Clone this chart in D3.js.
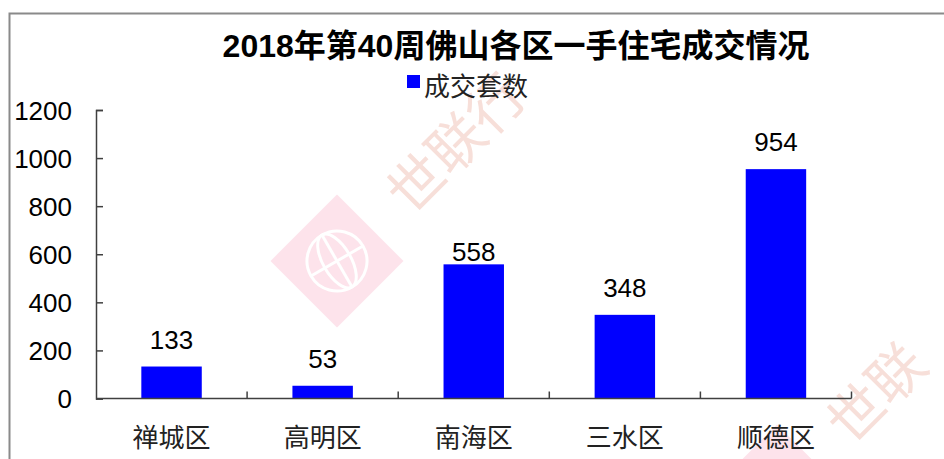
<html>
<head>
  <style>
    body{margin:0;background:#fff}
    .chart text{font-family:"Liberation Sans","Noto Sans CJK SC",sans-serif;fill:#000}
    .chart .axis line,
    .chart .axis path{stroke:#404040;stroke-width:1.5px;fill:none}
</style>
</head>

<body>
<div id="deals"></div>
<script src="https://d3js.org/d3.v7.min.js"></script>

<script>
// chart values
var categories = ['禅城区', '高明区', '南海区', '三水区', '顺德区'];
var units      = [133, 53, 558, 348, 954];
var yTicks     = [0, 200, 400, 600, 800, 1000, 1200];
var seriesName = '成交套数';
var titleText  = '2018年第40周佛山各区一手住宅成交情况';

(function () {

  var
    width   = 944,
    height  = 459,
    left    = 96,
    right   = 851.5,
    top     = 110,
    bottom  = 398.5,
    blue    = '#0000ff',
    tickLen = 7,
    vis     = d3.select('#deals').append('svg')
                .attr('class', 'chart')
                .attr('width', width)
                .attr('height', height),
    xScale  = d3.scaleBand().domain(categories).range([left, right]),
    yScale  = d3.scaleLinear().domain([0, 1200]).range([bottom, top]),
    barW    = xScale.bandwidth() * 0.4;

  // outer frame (runs off the page at right and bottom)
  vis.append('rect')
    .attr('x', 9.5)
    .attr('y', 13.5)
    .attr('width', width + 20)
    .attr('height', height + 20)
    .attr('fill', '#fff')
    .attr('stroke', '#8a8a8a')
    .attr('stroke-width', 2);

  // watermark logos
  function watermark(cx, cy, word) {
    var g = vis.append('g').attr('transform', 'translate(' + cx + ',' + cy + ')');
    g.append('rect')
      .attr('x', -47).attr('y', -47)
      .attr('width', 94).attr('height', 94)
      .attr('transform', 'rotate(45)')
      .attr('fill', '#fde3eb');
    var globe = g.append('g').attr('transform', 'rotate(-30)')
      .attr('fill', 'none').attr('stroke', '#fff').attr('stroke-width', 3);
    globe.append('ellipse').attr('rx', 30).attr('ry', 30);
    globe.append('ellipse').attr('rx', 14).attr('ry', 30);
    globe.append('line').attr('x1', -30).attr('x2', 30);
    globe.append('line').attr('y1', -30).attr('y2', 30);
    g.append('text')
      .attr('transform', 'translate(60,-58) rotate(-45)')
      .attr('x', 0)
      .attr('y', 20)
      .style('font-size', '56px')
      .style('fill', '#f7dfd9')
      .style('font-family', '"Noto Sans CJK SC"')
      .text(word);
  }
  watermark(337, 261, '世联行');
  watermark(777, 491, '世联');

  // title
  vis.append('text')
    .attr('x', 516)
    .attr('y', 57)
    .attr('text-anchor', 'middle')
    .style('font-size', '32px')
    .style('font-weight', 'bold')
    .text(titleText);

  // legend
  vis.append('rect')
    .attr('x', 407)
    .attr('y', 75)
    .attr('width', 13)
    .attr('height', 13)
    .attr('fill', blue);

  vis.append('text')
    .attr('x', 424)
    .attr('y', 96)
    .style('font-size', '26px')
    .style('fill', '#222')
    .text(seriesName);

  // bars
  vis.append('g').selectAll('rect')
    .data(units)
    .enter().append('rect')
    .attr('x', function (d, i) { return xScale(categories[i]) + (xScale.bandwidth() - barW) / 2; })
    .attr('y', function (d) { return yScale(d); })
    .attr('width', barW)
    .attr('height', function (d) { return yScale(0) - yScale(d); })
    .attr('fill', blue);

  // value labels (the 南海区 label sits closer to its bar)
  var nudge = { '南海区': 15 };
  vis.append('g').selectAll('text')
    .data(units)
    .enter().append('text')
    .attr('x', function (d, i) { return xScale(categories[i]) + xScale.bandwidth() / 2; })
    .attr('y', function (d, i) { return yScale(d) - 18 + (nudge[categories[i]] || 0); })
    .attr('text-anchor', 'middle')
    .style('font-size', '26px')
    .text(function (d) { return d; });

  // Y-Axis
  var yAxis = vis.append('g')
    .attr('class', 'axis')
    .attr('transform', 'translate(' + left + ',0)')
    .call(d3.axisRight(yScale)
      .tickValues(yTicks)
      .tickFormat(d3.format('d'))
      .tickSize(tickLen)
      .tickSizeOuter(tickLen));

  yAxis.selectAll('text')
    .attr('x', -24)
    .attr('dy', '0.35em')
    .attr('text-anchor', 'end')
    .style('font-size', '26px')
    .style('font-family', '"Liberation Sans",sans-serif');

  // X-Axis : line plus category ticks at the band edges
  var xAxis = vis.append('g').attr('class', 'axis');

  xAxis.append('line')
    .attr('x1', left)
    .attr('x2', right)
    .attr('y1', bottom)
    .attr('y2', bottom);

  xAxis.selectAll('line.tick')
    .data(categories.slice(1).concat(['__end']))
    .enter().append('line')
    .attr('class', 'tick')
    .attr('x1', function (d) { return d === '__end' ? right : xScale(d); })
    .attr('x2', function (d) { return d === '__end' ? right : xScale(d); })
    .attr('y1', bottom)
    .attr('y2', bottom - tickLen);

  xAxis.selectAll('text')
    .data(categories)
    .enter().append('text')
    .attr('x', function (d) { return xScale(d) + xScale.bandwidth() / 2; })
    .attr('y', 447)
    .attr('text-anchor', 'middle')
    .style('font-size', '26px')
    .style('fill', '#222')
    .text(function (d) { return d; });

})();
</script>

</body>
</html>
